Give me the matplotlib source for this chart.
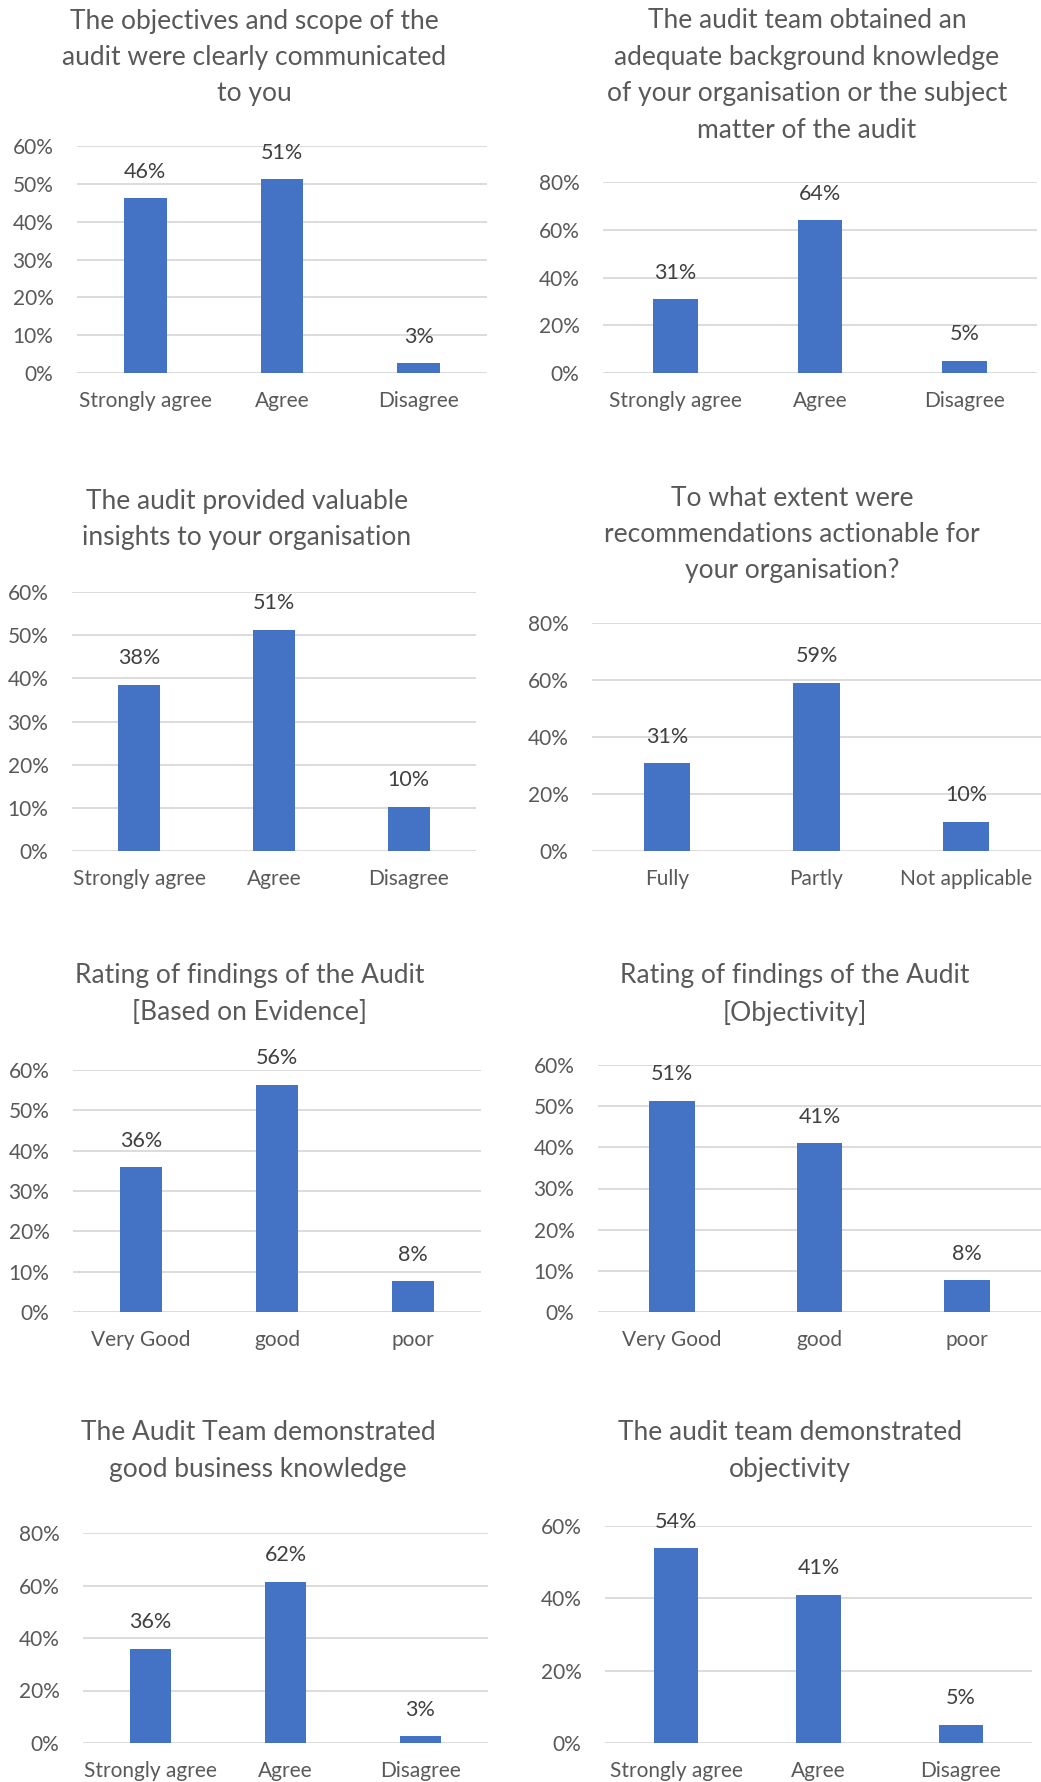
import numpy as np
import matplotlib
matplotlib.use('Agg')
import matplotlib.pyplot as plt
from matplotlib.ticker import PercentFormatter, MultipleLocator

plt.rcParams['font.family'] = ['Lato', 'DejaVu Sans']

# survey answers, share of respondents per answer
agree_cats = ['Strongly agree', 'Agree', 'Disagree']
action_cats = ['Fully', 'Partly', 'Not applicable']
rating_cats = ['Very Good', 'good', 'poor']

scope_vals = [0.462, 0.513, 0.026]
background_vals = [0.308, 0.641, 0.051]
insights_vals = [0.385, 0.513, 0.103]
actionable_vals = [0.308, 0.590, 0.103]
evidence_vals = [0.359, 0.564, 0.077]
objectivity_rating_vals = [0.513, 0.410, 0.077]
business_vals = [0.359, 0.615, 0.026]
objectivity_vals = [0.538, 0.410, 0.051]

titles = [
    ['The objectives and scope of the', 'audit were clearly communicated', 'to you'],
    ['The audit team obtained an', 'adequate background knowledge',
     'of your organisation or the subject', 'matter of the audit'],
    ['The audit provided valuable', 'insights to your organisation'],
    ['To what extent were', 'recommendations actionable for', 'your organisation?'],
    ['Rating of findings of the Audit', '[Based on Evidence]'],
    ['Rating of findings of the Audit', '[Objectivity]'],
    ['The Audit Team demonstrated', 'good business knowledge'],
    ['The audit team demonstrated', 'objectivity'],
]

W, H = 1041, 1782
BAR = '#4472C4'
GREY = '#595959'
GRID = '#D9D9D9'

# (left px, right px, top gridline px, zero line px, ymax, step, title first line y, title centre x)
panels = [
    (scope_vals, agree_cats, 77, 487, 146, 373, 0.6, 0.1, 21, 254),
    (background_vals, agree_cats, 603, 1037, 182, 373, 0.8, 0.2, 21, 807),
    (insights_vals, agree_cats, 72, 476, 592, 851, 0.6, 0.1, 501, 247),
    (actionable_vals, action_cats, 592, 1041, 623, 851, 0.8, 0.2, 498, 792),
    (evidence_vals, rating_cats, 73, 481, 1070, 1312, 0.6, 0.1, 976, 250),
    (objectivity_rating_vals, rating_cats, 598, 1041, 1065, 1312, 0.6, 0.1, 976, 795),
    (business_vals, agree_cats, 83, 488, 1533, 1743, 0.8, 0.2, 1433, 258),
    (objectivity_vals, agree_cats, 605, 1032, 1526, 1743, 0.6, 0.2, 1433, 790),
]

fig = plt.figure(figsize=(W / 100, H / 100), dpi=100)

for k, (vals, cats, x0, x1, yt, yb, ymax, step, ty, tx) in enumerate(panels):
    ax = fig.add_axes([x0 / W, 1 - yb / H, (x1 - x0) / W, (yb - yt) / H])
    x = np.arange(len(cats))
    bars = ax.bar(x, vals, width=0.31, color=BAR, zorder=3)
    ax.set_xlim(-0.5, len(cats) - 0.5)
    ax.set_ylim(0, ymax)
    ax.yaxis.set_major_locator(MultipleLocator(step))
    ax.yaxis.set_major_formatter(PercentFormatter(1.0, decimals=0))
    ax.set_xticks(x)
    ax.set_xticklabels(cats)
    ax.grid(axis='y', color=GRID, linewidth=1.3, zorder=0)
    ax.set_axisbelow(True)
    for s in ax.spines.values():
        s.set_visible(False)
    ax.tick_params(axis='both', length=0, labelsize=15, labelcolor=GREY)
    ax.tick_params(axis='y', pad=17)
    ax.tick_params(axis='x', pad=13)
    for b, v in zip(bars, vals):
        ax.annotate('{:.0%}'.format(v), (b.get_x() + b.get_width() / 2, v),
                    xytext=(0, 19), textcoords='offset points',
                    ha='center', va='center', fontsize=15.5, color='#404040')
    for i, line in enumerate(titles[k]):
        fig.text(tx / W, 1 - (ty + i * 36.5) / H, line, ha='center', va='center',
                 fontsize=19, color=GREY)

fig.savefig('out.png', dpi=100)
